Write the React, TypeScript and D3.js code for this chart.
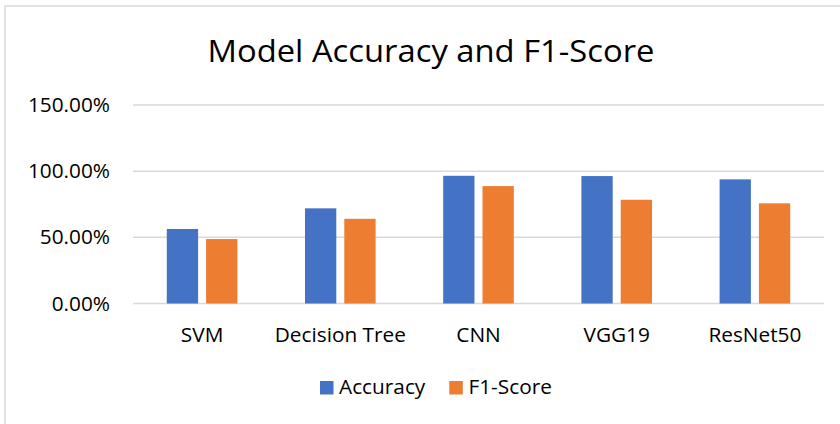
import React from "react";
import * as d3 from "d3";

const categories = ["SVM", "Decision Tree", "CNN", "VGG19", "ResNet50"];
const seriesNames = ["Accuracy", "F1-Score"];
const accuracy = [0.563, 0.719, 0.965, 0.963, 0.938];
const f1Score = [0.487, 0.64, 0.887, 0.784, 0.757];
const yTicks = [0, 0.5, 1.0, 1.5];
const colors = ["#4472C4", "#ED7D31"];

const W = 840;
const H = 424;
const FONT = "'Open Sans', 'Noto Sans', sans-serif";
const FS = 20.8;

export default function App() {
  const x = d3.scaleBand<string>().domain(categories).range([133, 824]).paddingInner(0).paddingOuter(0);
  const y = d3.scaleLinear().domain([0, 1.5]).range([303.5, 105]);
  const groupW = x.bandwidth() * 0.511;
  const sub = d3.scaleBand<string>().domain(seriesNames).range([-groupW / 2, groupW / 2]).paddingInner(0.2036);
  const values = [accuracy, f1Score];
  const fmt = d3.format(".2%");

  return (
    <div style={{ position: "fixed", left: 0, top: 0, width: W, height: H, background: "#fff" }}>
      <svg width={W} height={H} style={{ display: "block" }}>
        <rect x={0} y={0} width={W} height={H} fill="#fff" />
        <rect x={5} y={6} width={W + 10} height={H + 10} fill="#fff" stroke="#d9d9d9" strokeWidth={1.5} />
        <text x={431} y={62} textAnchor="middle" fontFamily={FONT} fontSize={31} fill="#000" textLength={447} lengthAdjust="spacingAndGlyphs">
          Model Accuracy and F1-Score
        </text>
        {yTicks.map((t) => (
          <g key={t}>
            <line x1={133} x2={824} y1={y(t)} y2={y(t)} stroke="#d9d9d9" strokeWidth={1.5} />
            <text x={110} y={y(t) + 7} textAnchor="end" fontFamily={FONT} fontSize={FS} fill="#000">
              {fmt(t)}
            </text>
          </g>
        ))}
        {categories.map((c, i) => (
          <g key={c} transform={`translate(${x(c)! + x.bandwidth() / 2},0)`}>
            {seriesNames.map((s, j) => (
              <rect
                key={s}
                x={sub(s)!}
                width={sub.bandwidth()}
                y={y(values[j][i])}
                height={y(0) - y(values[j][i])}
                fill={colors[j]}
              />
            ))}
            <text x={0} y={342} textAnchor="middle" fontFamily={FONT} fontSize={FS} fill="#000">
              {c}
            </text>
          </g>
        ))}
        <g>
          <rect x={320} y={381} width={13.5} height={13.5} fill={colors[0]} />
          <text x={339} y={394} fontFamily={FONT} fontSize={FS} fill="#000">{seriesNames[0]}</text>
          <rect x={449.3} y={381} width={13.5} height={13.5} fill={colors[1]} />
          <text x={468.5} y={394} fontFamily={FONT} fontSize={FS} fill="#000">{seriesNames[1]}</text>
        </g>
      </svg>
    </div>
  );
}
